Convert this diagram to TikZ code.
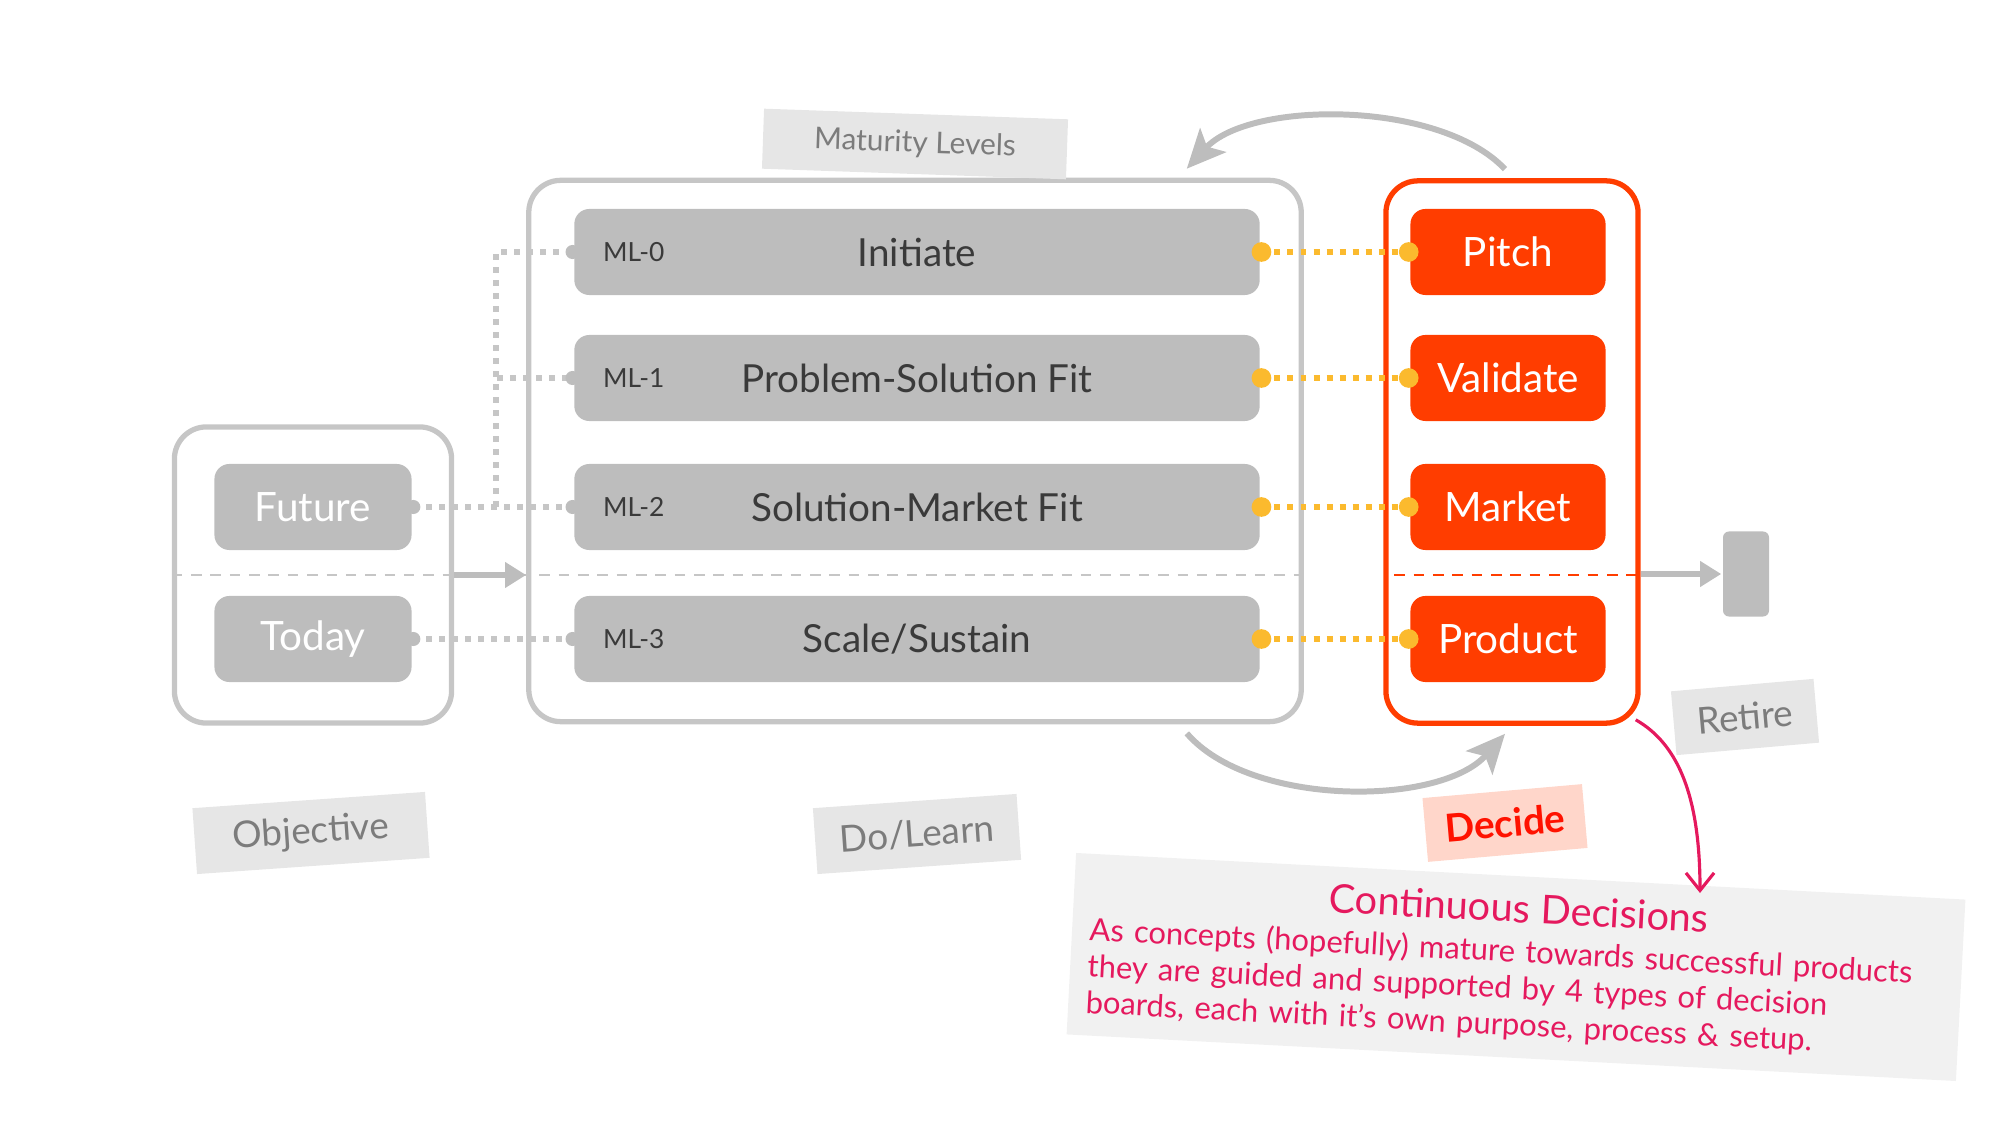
\documentclass[tikz,border=0pt]{standalone}
\usepackage{fontspec}
\setmainfont{Lato}
\usetikzlibrary{arrows.meta}

\definecolor{boxgray}{HTML}{BDBDBD}
\definecolor{framegray}{HTML}{C6C6C6}
\definecolor{tagfill}{HTML}{E6E6E6}
\definecolor{taggray}{HTML}{7C7C7C}
\definecolor{boardred}{HTML}{FF3D00}
\definecolor{linkyellow}{HTML}{FBBA2E}
\definecolor{decidefill}{HTML}{FFD6CA}
\definecolor{decidered}{HTML}{FF1200}
\definecolor{notepink}{HTML}{E5195E}
\definecolor{notefill}{HTML}{F1F1F1}
\definecolor{textdark}{HTML}{3A3A3A}

\tikzset{
  groupbox/.style={draw=framegray, line width=1.5pt, rounded corners=0.32cm},
  horizon/.style={fill=boxgray, rounded corners=0.15cm, minimum width=1.97cm, minimum height=0.86cm, text=white, font=\fontsize{11.5}{13}\selectfont},
  level/.style={fill=boxgray, rounded corners=0.15cm, minimum width=6.85cm, minimum height=0.86cm, text=textdark, font=\fontsize{11}{13}\selectfont},
  mltag/.style={anchor=west, text=textdark, font=\fontsize{7.5}{9}\selectfont},
  board/.style={fill=boardred, rounded corners=0.15cm, minimum width=1.95cm, minimum height=0.86cm, text=white, font=\fontsize{11.5}{13}\selectfont},
  tag/.style={fill=tagfill, text=taggray, font=\fontsize{10.5}{12}\selectfont},
  divider/.style={draw=framegray, line width=0.8pt, dash pattern=on 3pt off 2.5pt},
  flow/.style={draw=boxgray, line width=1.7pt, -{Triangle[length=6pt,width=7pt]}},
  roundtrip/.style={draw=boxgray, line width=1.7pt, -{Stealth[length=11pt,width=10pt,inset=2.5pt]}},
  ylink/.style={draw=linkyellow, line width=1.7pt, dash pattern=on 1.7pt off 2pt},
  glink/.style={draw=framegray, line width=1.7pt, dash pattern=on 1.7pt off 2pt},
  notebox/.style={fill=notefill, text=notepink, minimum width=8.9cm, minimum height=1.76cm, text width=8.55cm, align=left, inner sep=0.17cm, font=\fontsize{8.8}{10.4}\selectfont},
  pinkarrow/.style={draw=notepink, line width=0.9pt, -{Straight Barb[length=5pt,width=8pt]}}
}

\begin{document}
\begin{tikzpicture}[x=0.01cm, y=-0.01cm, line width=1pt]
	\useasboundingbox (0,0) rectangle (2000,1125);

	% Objective
	\node[groupbox, minimum width=2.77cm, minimum height=2.96cm] (objective) at (313,575) {};
	\node[horizon] (future) at (313,507) {Future};
	\node[horizon] (today) at (313,639) {Today};

	% Maturity levels
	\node[groupbox, minimum width=7.72cm, minimum height=5.41cm] (levels) at (915,451) {};
	\node[level] (ml0) at (917,252) {Initiate};
	\node[level] (ml1) at (917,378) {Problem-Solution Fit};
	\node[level] (ml2) at (917,507) {Solution-Market Fit};
	\node[level] (ml3) at (917,639) {Scale/Sustain};
	\node[mltag] (tag0) at ([xshift=0.17cm]ml0.west) {ML-0};
	\node[mltag] (tag1) at ([xshift=0.17cm]ml1.west) {ML-1};
	\node[mltag] (tag2) at ([xshift=0.17cm]ml2.west) {ML-2};
	\node[mltag] (tag3) at ([xshift=0.17cm]ml3.west) {ML-3};

	% Decision boards
	\node[groupbox, draw=boardred, minimum width=2.52cm, minimum height=5.42cm] (decide) at (1512,452) {};
	\node[board] (pitch) at (1508,252) {Pitch};
	\node[board] (validate) at (1508,378) {Validate};
	\node[board] (market) at (1508,507) {Market};
	\node[board] (product) at (1508,639) {Product};
	\node[fill=boxgray, rounded corners=0.06cm, minimum width=0.46cm, minimum height=0.85cm] (retire) at (1746,574) {};

	% Today / future split
	\draw[divider] (objective.west) -- (objective.west -| levels.east);
	\draw[divider, draw=boardred, shorten <=0.11cm] (decide.west |- objective.east) -- (decide.east |- objective.east);
	\draw[flow] (objective.east) -- (objective.east -| levels.west);
	\draw[flow] (decide.east |- retire.west) -- (retire.west);

	% Objectives to levels
	\coordinate (fork) at (496,507);
	\draw[glink] (future.east) -- (ml2.west);
	\draw[glink] (fork) |- (ml1.west);
	\draw[glink] (fork) |- (ml0.west);
	\draw[glink] (today.east) -- (ml3.west);
	\fill[boxgray] (future.east) circle (2pt) (today.east) circle (2pt)
		(ml0.west) circle (2pt) (ml1.west) circle (2pt) (ml2.west) circle (2pt) (ml3.west) circle (2pt);

	% Levels to boards
	\draw[ylink] (ml0.east) -- (pitch.west);
	\draw[ylink] (ml1.east) -- (validate.west);
	\draw[ylink] (ml2.east) -- (market.west);
	\draw[ylink] (ml3.east) -- (product.west);
	\fill[linkyellow] (ml0.east) circle (2.8pt) (pitch.west) circle (2.8pt)
		(ml1.east) circle (2.8pt) (validate.west) circle (2.8pt)
		(ml2.east) circle (2.8pt) (market.west) circle (2.8pt)
		(ml3.east) circle (2.8pt) (product.west) circle (2.8pt);

	% Do / decide loop
	\draw[roundtrip] ([xshift=-0.07cm, yshift=0.09cm]decide.north) .. controls (1440,100) and (1250,100) .. ([xshift=-1.17cm, yshift=0.09cm]levels.north east);
	\draw[roundtrip] ([xshift=-1.17cm, yshift=-0.09cm]levels.south east) .. controls (1250,807) and (1440,807) .. ([xshift=-0.07cm, yshift=-0.08cm]decide.south);

	% Tags
	\node[tag, rotate=-2, minimum width=3.04cm, minimum height=0.6cm, font=\fontsize{8.5}{10}\selectfont] (maturity) at (915,144) {Maturity Levels};
	\node[tag, rotate=4, minimum width=2.33cm, minimum height=0.66cm] (objtag) at (311,833) {Objective};
	\node[tag, rotate=4, minimum width=2.04cm, minimum height=0.66cm] (dolearn) at (917,834) {Do/Learn};
	\node[tag, rotate=5, minimum width=1.43cm, minimum height=0.64cm] (retiretag) at (1745,717) {Retire};
	\node[fill=decidefill, text=decidered, rotate=5, minimum width=1.6cm, minimum height=0.64cm, font=\fontsize{11}{13}\selectfont\bfseries] (decidetag) at (1505,823) {Decide};

	% Note
	\node[notebox, rotate=-3] (note) at (1516,967) {{\fontsize{11.3}{13}\selectfont\hfill Continuous Decisions\hfill\null}\\[1pt]
		As concepts (hopefully) mature towards successful products\\
		they are guided and supported by 4 types of decision\\
		boards, each with it’s own purpose, process \& setup.};
	\coordinate (notetip) at (1700,893);
	\draw[pinkarrow] ([xshift=-0.05cm, yshift=0.06cm]decide.south east) .. controls (1680,745) and (1700,800) .. (notetip);
\end{tikzpicture}
\end{document}
